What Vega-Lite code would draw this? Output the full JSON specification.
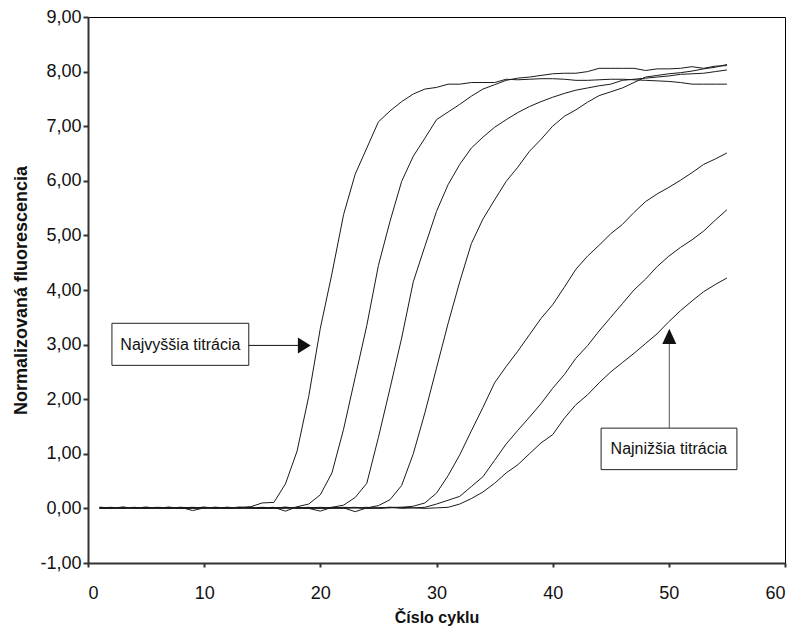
{
"$schema": "https://vega.github.io/schema/vega-lite/v6.json",
"width": 697, "height": 546,
"autosize": {"type": "none"},
"padding": {"left": 88, "top": 17, "right": 14, "bottom": 76},
"background": "white",
"config": {"view": {"stroke": "#000", "strokeWidth": 1}, "font": "Liberation Sans",
"axisX": {"grid": false, "domainColor": "#333", "domainWidth": 2, "tickColor": "#333", "tickWidth": 2, "tickSize": 4, "labelPadding": 17, "labelFontSize": 18, "labelColor": "#111", "labelFont": "Liberation Sans", "titleFont": "Liberation Sans", "titleFontSize": 16, "titleFontWeight": "bold", "titleColor": "#111", "titlePadding": 7},
"axisY": {"grid": false, "domainColor": "#333", "domainWidth": 2, "tickColor": "#333", "tickWidth": 2, "tickSize": 5, "labelPadding": 2, "labelFontSize": 18, "labelColor": "#111", "labelFont": "Liberation Sans", "titleFont": "Liberation Sans", "titleFontSize": 18, "titleFontWeight": "bold", "titleColor": "#111", "titlePadding": 9}
},
"datasets": {
"curves": [
{"s":"A","c":1,"v":0.02},{"s":"A","c":2,"v":0.01},{"s":"A","c":3,"v":0.02},{"s":"A","c":4,"v":0.01},{"s":"A","c":5,"v":0.02},{"s":"A","c":6,"v":0.0},{"s":"A","c":7,"v":0.01},{"s":"A","c":8,"v":0.02},{"s":"A","c":9,"v":-0.04},{"s":"A","c":10,"v":0.01},{"s":"A","c":11,"v":0.02},{"s":"A","c":12,"v":0.01},{"s":"A","c":13,"v":0.02},{"s":"A","c":14,"v":0.03},{"s":"A","c":15,"v":0.1},{"s":"A","c":16,"v":0.11},{"s":"A","c":17,"v":0.45},{"s":"A","c":18,"v":1.05},{"s":"A","c":19,"v":2.05},{"s":"A","c":20,"v":3.3},{"s":"A","c":21,"v":4.3},{"s":"A","c":22,"v":5.38},{"s":"A","c":23,"v":6.12},{"s":"A","c":24,"v":6.6},{"s":"A","c":25,"v":7.08},{"s":"A","c":26,"v":7.28},{"s":"A","c":27,"v":7.45},{"s":"A","c":28,"v":7.59},{"s":"A","c":29,"v":7.68},{"s":"A","c":30,"v":7.71},{"s":"A","c":31,"v":7.77},{"s":"A","c":32,"v":7.77},{"s":"A","c":33,"v":7.8},{"s":"A","c":34,"v":7.8},{"s":"A","c":35,"v":7.8},{"s":"A","c":36,"v":7.86},{"s":"A","c":37,"v":7.85},{"s":"A","c":38,"v":7.86},{"s":"A","c":39,"v":7.87},{"s":"A","c":40,"v":7.87},{"s":"A","c":41,"v":7.86},{"s":"A","c":42,"v":7.84},{"s":"A","c":43,"v":7.84},{"s":"A","c":44,"v":7.85},{"s":"A","c":45,"v":7.86},{"s":"A","c":46,"v":7.86},{"s":"A","c":47,"v":7.85},{"s":"A","c":48,"v":7.84},{"s":"A","c":49,"v":7.83},{"s":"A","c":50,"v":7.82},{"s":"A","c":51,"v":7.8},{"s":"A","c":52,"v":7.77},{"s":"A","c":53,"v":7.77},{"s":"A","c":54,"v":7.77},{"s":"A","c":55,"v":7.77},
{"s":"B","c":1,"v":0.01},{"s":"B","c":2,"v":0.02},{"s":"B","c":3,"v":0.0},{"s":"B","c":4,"v":0.01},{"s":"B","c":5,"v":0.02},{"s":"B","c":6,"v":0.01},{"s":"B","c":7,"v":0.0},{"s":"B","c":8,"v":0.01},{"s":"B","c":9,"v":0.02},{"s":"B","c":10,"v":0.01},{"s":"B","c":11,"v":0.0},{"s":"B","c":12,"v":0.02},{"s":"B","c":13,"v":0.01},{"s":"B","c":14,"v":0.0},{"s":"B","c":15,"v":0.01},{"s":"B","c":16,"v":0.02},{"s":"B","c":17,"v":-0.05},{"s":"B","c":18,"v":0.03},{"s":"B","c":19,"v":0.08},{"s":"B","c":20,"v":0.25},{"s":"B","c":21,"v":0.65},{"s":"B","c":22,"v":1.45},{"s":"B","c":23,"v":2.4},{"s":"B","c":24,"v":3.35},{"s":"B","c":25,"v":4.45},{"s":"B","c":26,"v":5.26},{"s":"B","c":27,"v":5.99},{"s":"B","c":28,"v":6.45},{"s":"B","c":29,"v":6.78},{"s":"B","c":30,"v":7.12},{"s":"B","c":31,"v":7.26},{"s":"B","c":32,"v":7.4},{"s":"B","c":33,"v":7.55},{"s":"B","c":34,"v":7.68},{"s":"B","c":35,"v":7.76},{"s":"B","c":36,"v":7.84},{"s":"B","c":37,"v":7.88},{"s":"B","c":38,"v":7.9},{"s":"B","c":39,"v":7.93},{"s":"B","c":40,"v":7.96},{"s":"B","c":41,"v":7.97},{"s":"B","c":42,"v":7.97},{"s":"B","c":43,"v":8.0},{"s":"B","c":44,"v":8.06},{"s":"B","c":45,"v":8.06},{"s":"B","c":46,"v":8.06},{"s":"B","c":47,"v":8.06},{"s":"B","c":48,"v":8.02},{"s":"B","c":49,"v":8.05},{"s":"B","c":50,"v":8.05},{"s":"B","c":51,"v":8.06},{"s":"B","c":52,"v":8.09},{"s":"B","c":53,"v":8.06},{"s":"B","c":54,"v":8.1},{"s":"B","c":55,"v":8.11},
{"s":"C","c":1,"v":0.0},{"s":"C","c":2,"v":0.01},{"s":"C","c":3,"v":0.02},{"s":"C","c":4,"v":0.01},{"s":"C","c":5,"v":0.0},{"s":"C","c":6,"v":0.01},{"s":"C","c":7,"v":0.02},{"s":"C","c":8,"v":0.0},{"s":"C","c":9,"v":0.01},{"s":"C","c":10,"v":0.02},{"s":"C","c":11,"v":0.01},{"s":"C","c":12,"v":0.0},{"s":"C","c":13,"v":0.02},{"s":"C","c":14,"v":0.01},{"s":"C","c":15,"v":0.0},{"s":"C","c":16,"v":0.01},{"s":"C","c":17,"v":0.02},{"s":"C","c":18,"v":0.01},{"s":"C","c":19,"v":0.0},{"s":"C","c":20,"v":-0.05},{"s":"C","c":21,"v":0.02},{"s":"C","c":22,"v":0.06},{"s":"C","c":23,"v":0.2},{"s":"C","c":24,"v":0.46},{"s":"C","c":25,"v":1.3},{"s":"C","c":26,"v":2.2},{"s":"C","c":27,"v":3.12},{"s":"C","c":28,"v":4.15},{"s":"C","c":29,"v":4.8},{"s":"C","c":30,"v":5.44},{"s":"C","c":31,"v":5.93},{"s":"C","c":32,"v":6.3},{"s":"C","c":33,"v":6.6},{"s":"C","c":34,"v":6.8},{"s":"C","c":35,"v":6.98},{"s":"C","c":36,"v":7.12},{"s":"C","c":37,"v":7.25},{"s":"C","c":38,"v":7.36},{"s":"C","c":39,"v":7.45},{"s":"C","c":40,"v":7.53},{"s":"C","c":41,"v":7.6},{"s":"C","c":42,"v":7.66},{"s":"C","c":43,"v":7.7},{"s":"C","c":44,"v":7.74},{"s":"C","c":45,"v":7.77},{"s":"C","c":46,"v":7.84},{"s":"C","c":47,"v":7.86},{"s":"C","c":48,"v":7.88},{"s":"C","c":49,"v":7.9},{"s":"C","c":50,"v":7.92},{"s":"C","c":51,"v":7.95},{"s":"C","c":52,"v":7.96},{"s":"C","c":53,"v":7.97},{"s":"C","c":54,"v":8.0},{"s":"C","c":55,"v":8.03},
{"s":"D","c":1,"v":0.01},{"s":"D","c":2,"v":0.0},{"s":"D","c":3,"v":0.01},{"s":"D","c":4,"v":0.02},{"s":"D","c":5,"v":0.0},{"s":"D","c":6,"v":0.01},{"s":"D","c":7,"v":0.02},{"s":"D","c":8,"v":0.01},{"s":"D","c":9,"v":0.0},{"s":"D","c":10,"v":0.01},{"s":"D","c":11,"v":0.02},{"s":"D","c":12,"v":0.0},{"s":"D","c":13,"v":0.01},{"s":"D","c":14,"v":0.02},{"s":"D","c":15,"v":0.01},{"s":"D","c":16,"v":0.0},{"s":"D","c":17,"v":0.01},{"s":"D","c":18,"v":0.02},{"s":"D","c":19,"v":0.01},{"s":"D","c":20,"v":0.0},{"s":"D","c":21,"v":0.02},{"s":"D","c":22,"v":0.01},{"s":"D","c":23,"v":-0.06},{"s":"D","c":24,"v":0.01},{"s":"D","c":25,"v":0.05},{"s":"D","c":26,"v":0.16},{"s":"D","c":27,"v":0.42},{"s":"D","c":28,"v":1.0},{"s":"D","c":29,"v":1.75},{"s":"D","c":30,"v":2.57},{"s":"D","c":31,"v":3.39},{"s":"D","c":32,"v":4.15},{"s":"D","c":33,"v":4.85},{"s":"D","c":34,"v":5.3},{"s":"D","c":35,"v":5.65},{"s":"D","c":36,"v":5.99},{"s":"D","c":37,"v":6.25},{"s":"D","c":38,"v":6.54},{"s":"D","c":39,"v":6.76},{"s":"D","c":40,"v":7.0},{"s":"D","c":41,"v":7.18},{"s":"D","c":42,"v":7.3},{"s":"D","c":43,"v":7.44},{"s":"D","c":44,"v":7.56},{"s":"D","c":45,"v":7.63},{"s":"D","c":46,"v":7.7},{"s":"D","c":47,"v":7.8},{"s":"D","c":48,"v":7.9},{"s":"D","c":49,"v":7.93},{"s":"D","c":50,"v":7.96},{"s":"D","c":51,"v":7.98},{"s":"D","c":52,"v":8.01},{"s":"D","c":53,"v":8.05},{"s":"D","c":54,"v":8.08},{"s":"D","c":55,"v":8.13},
{"s":"E","c":1,"v":0.02},{"s":"E","c":2,"v":0.01},{"s":"E","c":3,"v":0.0},{"s":"E","c":4,"v":0.01},{"s":"E","c":5,"v":0.02},{"s":"E","c":6,"v":0.01},{"s":"E","c":7,"v":0.0},{"s":"E","c":8,"v":0.02},{"s":"E","c":9,"v":0.01},{"s":"E","c":10,"v":0.0},{"s":"E","c":11,"v":0.01},{"s":"E","c":12,"v":0.02},{"s":"E","c":13,"v":0.0},{"s":"E","c":14,"v":0.01},{"s":"E","c":15,"v":0.02},{"s":"E","c":16,"v":0.01},{"s":"E","c":17,"v":0.0},{"s":"E","c":18,"v":0.01},{"s":"E","c":19,"v":0.02},{"s":"E","c":20,"v":0.0},{"s":"E","c":21,"v":0.01},{"s":"E","c":22,"v":0.02},{"s":"E","c":23,"v":0.01},{"s":"E","c":24,"v":0.0},{"s":"E","c":25,"v":0.01},{"s":"E","c":26,"v":0.02},{"s":"E","c":27,"v":0.02},{"s":"E","c":28,"v":0.04},{"s":"E","c":29,"v":0.1},{"s":"E","c":30,"v":0.28},{"s":"E","c":31,"v":0.6},{"s":"E","c":32,"v":0.98},{"s":"E","c":33,"v":1.42},{"s":"E","c":34,"v":1.85},{"s":"E","c":35,"v":2.3},{"s":"E","c":36,"v":2.6},{"s":"E","c":37,"v":2.88},{"s":"E","c":38,"v":3.18},{"s":"E","c":39,"v":3.48},{"s":"E","c":40,"v":3.73},{"s":"E","c":41,"v":4.05},{"s":"E","c":42,"v":4.38},{"s":"E","c":43,"v":4.62},{"s":"E","c":44,"v":4.82},{"s":"E","c":45,"v":5.03},{"s":"E","c":46,"v":5.2},{"s":"E","c":47,"v":5.42},{"s":"E","c":48,"v":5.62},{"s":"E","c":49,"v":5.76},{"s":"E","c":50,"v":5.88},{"s":"E","c":51,"v":6.01},{"s":"E","c":52,"v":6.15},{"s":"E","c":53,"v":6.3},{"s":"E","c":54,"v":6.4},{"s":"E","c":55,"v":6.51},
{"s":"F","c":1,"v":0.0},{"s":"F","c":2,"v":0.01},{"s":"F","c":3,"v":0.02},{"s":"F","c":4,"v":0.0},{"s":"F","c":5,"v":0.01},{"s":"F","c":6,"v":0.02},{"s":"F","c":7,"v":0.01},{"s":"F","c":8,"v":0.0},{"s":"F","c":9,"v":0.01},{"s":"F","c":10,"v":0.02},{"s":"F","c":11,"v":0.0},{"s":"F","c":12,"v":0.01},{"s":"F","c":13,"v":0.02},{"s":"F","c":14,"v":0.01},{"s":"F","c":15,"v":0.0},{"s":"F","c":16,"v":0.01},{"s":"F","c":17,"v":0.02},{"s":"F","c":18,"v":0.0},{"s":"F","c":19,"v":0.01},{"s":"F","c":20,"v":0.02},{"s":"F","c":21,"v":0.01},{"s":"F","c":22,"v":0.0},{"s":"F","c":23,"v":0.01},{"s":"F","c":24,"v":0.02},{"s":"F","c":25,"v":0.0},{"s":"F","c":26,"v":0.01},{"s":"F","c":27,"v":0.02},{"s":"F","c":28,"v":0.01},{"s":"F","c":29,"v":0.02},{"s":"F","c":30,"v":0.08},{"s":"F","c":31,"v":0.15},{"s":"F","c":32,"v":0.22},{"s":"F","c":33,"v":0.4},{"s":"F","c":34,"v":0.58},{"s":"F","c":35,"v":0.88},{"s":"F","c":36,"v":1.18},{"s":"F","c":37,"v":1.43},{"s":"F","c":38,"v":1.67},{"s":"F","c":39,"v":1.92},{"s":"F","c":40,"v":2.2},{"s":"F","c":41,"v":2.45},{"s":"F","c":42,"v":2.75},{"s":"F","c":43,"v":2.98},{"s":"F","c":44,"v":3.25},{"s":"F","c":45,"v":3.5},{"s":"F","c":46,"v":3.75},{"s":"F","c":47,"v":4.0},{"s":"F","c":48,"v":4.2},{"s":"F","c":49,"v":4.43},{"s":"F","c":50,"v":4.62},{"s":"F","c":51,"v":4.78},{"s":"F","c":52,"v":4.92},{"s":"F","c":53,"v":5.08},{"s":"F","c":54,"v":5.28},{"s":"F","c":55,"v":5.47},
{"s":"G","c":1,"v":0.01},{"s":"G","c":2,"v":0.0},{"s":"G","c":3,"v":0.02},{"s":"G","c":4,"v":0.01},{"s":"G","c":5,"v":0.0},{"s":"G","c":6,"v":0.01},{"s":"G","c":7,"v":0.02},{"s":"G","c":8,"v":0.0},{"s":"G","c":9,"v":0.01},{"s":"G","c":10,"v":0.02},{"s":"G","c":11,"v":0.01},{"s":"G","c":12,"v":0.0},{"s":"G","c":13,"v":0.01},{"s":"G","c":14,"v":0.02},{"s":"G","c":15,"v":0.0},{"s":"G","c":16,"v":0.01},{"s":"G","c":17,"v":0.02},{"s":"G","c":18,"v":0.01},{"s":"G","c":19,"v":0.0},{"s":"G","c":20,"v":0.01},{"s":"G","c":21,"v":0.0},{"s":"G","c":22,"v":0.01},{"s":"G","c":23,"v":0.02},{"s":"G","c":24,"v":0.0},{"s":"G","c":25,"v":0.01},{"s":"G","c":26,"v":0.02},{"s":"G","c":27,"v":0.0},{"s":"G","c":28,"v":0.01},{"s":"G","c":29,"v":0.0},{"s":"G","c":30,"v":0.01},{"s":"G","c":31,"v":0.02},{"s":"G","c":32,"v":0.08},{"s":"G","c":33,"v":0.18},{"s":"G","c":34,"v":0.3},{"s":"G","c":35,"v":0.46},{"s":"G","c":36,"v":0.65},{"s":"G","c":37,"v":0.8},{"s":"G","c":38,"v":1.0},{"s":"G","c":39,"v":1.2},{"s":"G","c":40,"v":1.35},{"s":"G","c":41,"v":1.65},{"s":"G","c":42,"v":1.9},{"s":"G","c":43,"v":2.08},{"s":"G","c":44,"v":2.3},{"s":"G","c":45,"v":2.5},{"s":"G","c":46,"v":2.67},{"s":"G","c":47,"v":2.84},{"s":"G","c":48,"v":3.02},{"s":"G","c":49,"v":3.2},{"s":"G","c":50,"v":3.42},{"s":"G","c":51,"v":3.62},{"s":"G","c":52,"v":3.8},{"s":"G","c":53,"v":3.97},{"s":"G","c":54,"v":4.1},{"s":"G","c":55,"v":4.22}
],
"boxes": [
{"label":"Najvyššia titrácia","x1":2.06,"x2":13.84,"y1":2.62,"y2":3.39,"tx":7.95,"ty":2.99},
{"label":"Najnižšia titrácia","x1":44.17,"x2":55.86,"y1":0.71,"y2":1.47,"tx":50.0,"ty":1.09}
],
"hrule": [{"x1":13.84,"x2":18.3,"y":2.985}],
"vrule": [{"x":50.04,"y1":1.47,"y2":3.05}],
"headR": [{"x":18.62,"y":2.985}],
"headU": [{"x":50.04,"y":3.15}]
},
"layer": [
{
"data": {"name": "curves"},
"mark": {"type": "line", "color": "#1a1a1a", "strokeWidth": 1, "interpolate": "linear"},
"encoding": {
"x": {"field": "c", "type": "quantitative", "title": "Číslo cyklu", "scale": {"domain": [0, 60], "nice": false, "zero": false}, "axis": {"values": [0,10,20,30,40,50,60]}},
"y": {"field": "v", "type": "quantitative", "title": "Normalizovaná fluorescencia", "scale": {"domain": [-1, 9], "nice": false, "zero": false}, "axis": {"values": [-1,0,1,2,3,4,5,6,7,8,9], "labelExpr": "(datum.value < 0 ? '-' : '') + replace(format(abs(datum.value), '.2f'), '.', ',')"}},
"detail": {"field": "s", "type": "nominal"}
}
},
{
"data": {"name": "boxes"},
"mark": {"type": "rect", "fill": "white", "stroke": "#222", "strokeWidth": 1},
"encoding": {
"x": {"field": "x1", "type": "quantitative", "title": "Číslo cyklu"},
"x2": {"field": "x2"},
"y": {"field": "y1", "type": "quantitative", "title": "Normalizovaná fluorescencia"},
"y2": {"field": "y2"}
}
},
{
"data": {"name": "boxes"},
"mark": {"type": "text", "fontSize": 16, "font": "Liberation Sans", "color": "#111", "align": "center", "baseline": "middle"},
"encoding": {
"x": {"field": "tx", "type": "quantitative", "title": "Číslo cyklu"},
"y": {"field": "ty", "type": "quantitative", "title": "Normalizovaná fluorescencia"},
"text": {"field": "label"}
}
},
{
"data": {"name": "hrule"},
"mark": {"type": "rule", "color": "#111", "strokeWidth": 1},
"encoding": {
"x": {"field": "x1", "type": "quantitative", "title": "Číslo cyklu"},
"x2": {"field": "x2"},
"y": {"field": "y", "type": "quantitative", "title": "Normalizovaná fluorescencia"}
}
},
{
"data": {"name": "vrule"},
"mark": {"type": "rule", "color": "#555", "strokeWidth": 1},
"encoding": {
"x": {"field": "x", "type": "quantitative", "title": "Číslo cyklu"},
"y": {"field": "y1", "type": "quantitative", "title": "Normalizovaná fluorescencia"},
"y2": {"field": "y2"}
}
},
{
"data": {"name": "headR"},
"mark": {"type": "point", "shape": "M-0.8,-1L0.8,0L-0.8,1Z", "size": 256, "filled": true, "color": "#111", "opacity": 1, "strokeWidth": 0},
"encoding": {
"x": {"field": "x", "type": "quantitative", "title": "Číslo cyklu"},
"y": {"field": "y", "type": "quantitative", "title": "Normalizovaná fluorescencia"}
}
},
{
"data": {"name": "headU"},
"mark": {"type": "point", "shape": "M0,-0.95L0.875,0.95L-0.875,0.95Z", "size": 256, "filled": true, "color": "#111", "opacity": 1, "strokeWidth": 0},
"encoding": {
"x": {"field": "x", "type": "quantitative", "title": "Číslo cyklu"},
"y": {"field": "y", "type": "quantitative", "title": "Normalizovaná fluorescencia"}
}
}
]
}
